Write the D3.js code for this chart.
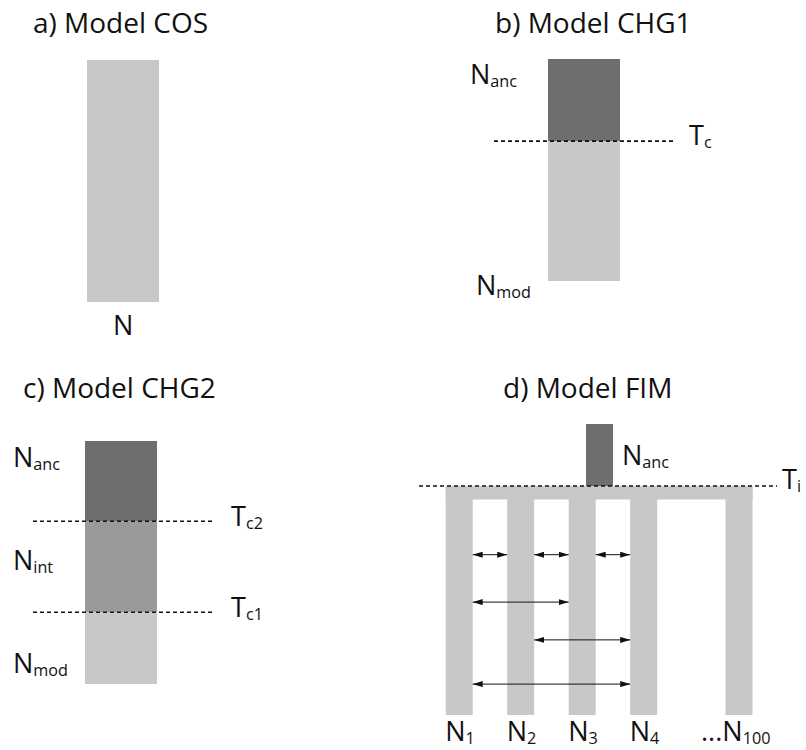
<!DOCTYPE html>
<html>
<head>
<meta charset="utf-8">
<script src="https://cdn.jsdelivr.net/npm/d3@7"></script>
<style>
  html, body { margin: 0; padding: 0; background: #fff; }
  svg { display: block; }
  text { font-family: "Open Sans", "Noto Sans", sans-serif; fill: #111; }
</style>
</head>
<body>
<svg id="chart" width="806" height="750"></svg>
<script>
// ---------------- data ----------------
const panelTitles = ["a) Model COS", "b) Model CHG1", "c) Model CHG2", "d) Model FIM"];

// epochs: relative time from oldest (0) to present (1)
const cosEpochs  = [{ start: 0, end: 1, shade: "light" }];
const cosLabels  = [{ main: "N", sub: "" }];

const chg1Epochs = [{ start: 0, end: 0.37, shade: "dark" }, { start: 0.37, end: 1, shade: "light" }];
const chg1Changes = [{ t: 0.37, main: "T", sub: "c" }];
const chg1Labels = [{ t: 0.08, main: "N", sub: "anc" }, { t: 1.02, main: "N", sub: "mod" }];

const chg2Epochs = [{ start: 0, end: 0.33, shade: "dark" }, { start: 0.33, end: 0.705, shade: "mid" }, { start: 0.705, end: 1, shade: "light" }];
const chg2Changes = [{ t: 0.33, main: "T", sub: "c2" }, { t: 0.705, main: "T", sub: "c1" }];
const chg2Labels = [{ t: 0.105, main: "N", sub: "anc" }, { t: 0.53, main: "N", sub: "int" }, { t: 0.955, main: "N", sub: "mod" }];

// FIM model
const fimPops = ["1", "2", "3", "4", "100"];
const fimSlots = [0, 1, 2, 3, 4.55];           // horizontal slot of each deme
const fimMigrations = [                        // [from deme index, to deme index, relative time]
  [0, 1, 0.30], [1, 2, 0.30], [2, 3, 0.30],
  [0, 2, 0.507], [1, 3, 0.672], [0, 3, 0.865]
];

// ---------------- drawing ----------------
const shades = { light: "#c8c8c8", mid: "#9a9a9a", dark: "#6e6e6e" };
const svg = d3.select("#chart");

const defs = svg.append("defs");
["arrowEnd", "arrowStart"].forEach((id, i) => {
  defs.append("marker")
    .attr("id", id).attr("viewBox", "0 0 10 6")
    .attr("refX", i === 0 ? 10 : 0).attr("refY", 3)
    .attr("markerWidth", 10).attr("markerHeight", 6)
    .attr("markerUnits", "userSpaceOnUse")
    .attr("orient", "auto")
    .append("path")
    .attr("d", i === 0 ? "M0,0 L10,3 L0,6 Z" : "M10,0 L0,3 L10,6 Z")
    .attr("fill", "#111");
});

function label(g, x, y, main, sub, size) {
  size = size || 27;
  const t = g.append("text").attr("x", x).attr("y", y).style("font-size", size + "px");
  t.append("tspan").text(main);
  if (sub) t.append("tspan").attr("dy", 3).style("font-size", (size * 0.6) + "px").text(sub);
  return t;
}

function title(x, y, txt) {
  svg.append("text").attr("x", x).attr("y", y).style("font-size", "28px").text(txt);
}

function dotted(g, x1, x2, y) {
  g.append("line").attr("x1", x1).attr("x2", x2).attr("y1", y).attr("y2", y)
    .attr("stroke", "#111").attr("stroke-width", 1.6).attr("stroke-dasharray", "4,3");
}

function column(g, epochs, x, y) {
  g.selectAll("rect.ep").data(epochs).join("rect").attr("class", "ep")
    .attr("x", x(0)).attr("width", x(1) - x(0))
    .attr("y", d => y(d.start)).attr("height", d => y(d.end) - y(d.start))
    .attr("fill", d => shades[d.shade]);
}

// a) COS
title(33, 33, panelTitles[0]);
{
  const g = svg.append("g");
  const x = d3.scaleLinear().domain([0, 1]).range([87, 159]);
  const y = d3.scaleLinear().domain([0, 1]).range([60, 302]);
  column(g, cosEpochs, x, y);
  cosLabels.forEach(l => label(g, 113, 335, l.main, l.sub));
}

// b) CHG1
title(495, 33, panelTitles[1]);
{
  const g = svg.append("g");
  const x = d3.scaleLinear().domain([0, 1]).range([548, 620]);
  const y = d3.scaleLinear().domain([0, 1]).range([59, 281]);
  column(g, chg1Epochs, x, y);
  chg1Changes.forEach(c => {
    dotted(g, 494, 675, y(c.t));
    label(g, 689, y(c.t) + 4, c.main, c.sub);
  });
  label(g, 470, y(chg1Labels[0].t) + 7, chg1Labels[0].main, chg1Labels[0].sub);
  label(g, 476, y(chg1Labels[1].t) + 10, chg1Labels[1].main, chg1Labels[1].sub);
}

// c) CHG2
title(23, 398, panelTitles[2]);
{
  const g = svg.append("g");
  const x = d3.scaleLinear().domain([0, 1]).range([85, 157]);
  const y = d3.scaleLinear().domain([0, 1]).range([441, 684]);
  column(g, chg2Epochs, x, y);
  chg2Changes.forEach(c => {
    dotted(g, 33, 213, y(c.t));
    label(g, 231, y(c.t) + 5, c.main, c.sub);
  });
  chg2Labels.forEach(l => label(g, 13, y(l.t), l.main, l.sub));
}

// d) FIM
title(503, 398, panelTitles[3]);
{
  const g = svg.append("g");
  const x = d3.scaleLinear().domain([0, 1]).range([459.2, 520.7]);
  const barW = 27;
  const y = d3.scaleLinear().domain([0, 1]).range([486, 715]);
  // ancestral deme
  g.append("rect").attr("x", 586).attr("y", 424).attr("width", 27).attr("height", y(0) - 424)
    .attr("fill", shades.dark);
  label(g, 622, 465, "N", "anc");
  // connecting bar
  const xs = fimSlots.map(s => x(s));
  g.append("rect").attr("x", xs[0] - barW / 2).attr("y", y(0))
    .attr("width", xs[xs.length - 1] - xs[0] + barW).attr("height", 13.5)
    .attr("fill", shades.light);
  // demes
  g.selectAll("rect.deme").data(fimPops).join("rect").attr("class", "deme")
    .attr("x", (d, i) => xs[i] - barW / 2).attr("y", y(0))
    .attr("width", barW).attr("height", y(1) - y(0))
    .attr("fill", shades.light);
  // Ti line
  dotted(g, 419, 777, y(0));
  label(g, 782, y(0) + 3, "T", "i");
  // migration arrows
  g.selectAll("line.mig").data(fimMigrations).join("line").attr("class", "mig")
    .attr("x1", d => xs[d[0]] + barW / 2).attr("x2", d => xs[d[1]] - barW / 2)
    .attr("y1", d => y(d[2])).attr("y2", d => y(d[2]))
    .attr("stroke", "#111").attr("stroke-width", 1)
    .attr("marker-start", "url(#arrowStart)").attr("marker-end", "url(#arrowEnd)");
  // deme labels
  fimPops.forEach((p, i) => {
    const lx = i === 4 ? xs[i] - 38 : xs[i] - 14;
    label(g, lx, 741, (i === 4 ? "..." : "") + "N", p);
  });
}
</script>
</body>
</html>
